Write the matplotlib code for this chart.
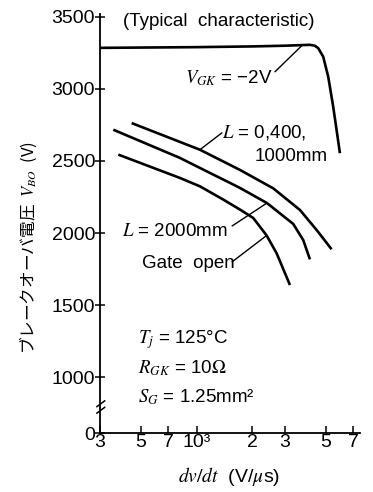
import matplotlib
matplotlib.use("Agg")
import matplotlib.pyplot as plt
import matplotlib.transforms as mtrans
from matplotlib.ticker import FixedLocator, FixedFormatter, NullLocator

plt.rcParams['mathtext.fontset'] = 'stix'
plt.rcParams['font.family'] = ['Liberation Sans', 'DejaVu Sans']

# ---- data ----
vgk_x = [300, 1000, 2000, 3000, 4096, 4350, 4542, 4831, 5143, 5472, 5708, 5950]
vgk_y = [3285, 3290, 3295, 3300, 3306, 3300, 3283, 3224, 3085, 2877, 2715, 2554]

l0_x = [445, 1041, 1713, 2594, 3616, 4452, 5365]
l0_y = [2763, 2578, 2438, 2310, 2160, 2021, 1887]

l2000_x = [354, 812, 1179, 1513, 1713, 2398, 3327, 3768, 4096]
l2000_y = [2717, 2521, 2417, 2348, 2313, 2208, 2063, 1951, 1817]

gate_x = [377, 812, 1041, 1392, 1713, 2023, 2389, 2706, 3193]
gate_y = [2544, 2382, 2324, 2232, 2163, 2104, 1983, 1859, 1639]

x_ticks = [300, 500, 700, 1000, 2000, 3000, 5000, 7000]
x_labels = ['3', '5', '7', '10³', '2', '3', '5', '7']
y_ticks = [612, 1000, 1500, 2000, 2500, 3000, 3500]
y_labels = ['0', '1000', '1500', '2000', '2500', '3000', '3500']

W, H = 373, 492
fig = plt.figure(figsize=(W / 100, H / 100), dpi=100)
ax = fig.add_axes([100 / W, 1 - 433 / H, 260 / W, (433 - 14) / H])

lw = 1.9
for xs, ys in ((vgk_x, vgk_y), (l0_x, l0_y), (l2000_x, l2000_y), (gate_x, gate_y)):
    ax.plot(xs, ys, color='black', lw=lw, solid_capstyle='butt',
            solid_joinstyle='round')

ax.set_xscale('log')
ax.set_xlim(300, 7640)
ax.set_ylim(612, 3520)

ax.xaxis.set_major_locator(FixedLocator(x_ticks))
ax.xaxis.set_major_formatter(FixedFormatter(x_labels))
ax.xaxis.set_minor_locator(NullLocator())
ax.yaxis.set_major_locator(FixedLocator(y_ticks))
ax.yaxis.set_major_formatter(FixedFormatter(y_labels))

for s in ['top', 'right']:
    ax.spines[s].set_visible(False)
for s in ['left', 'bottom']:
    ax.spines[s].set_linewidth(1.3)

ax.tick_params(axis='x', direction='in', length=5, width=1.1, labelsize=14, pad=1)
ax.tick_params(axis='y', direction='inout', length=7, width=1.1, labelsize=14, pad=0)

# axis break marks on y axis
bt = mtrans.blended_transform_factory(ax.transAxes, ax.transData)
for yb in (815, 770):
    ax.plot([-0.012, 0.018], [yb - 20, yb + 20], transform=bt, color='black',
            lw=1.1, clip_on=False)

# leader lines
def leader(x0, y0, x1, y1):
    ax.annotate('', xy=(x1, y1), xytext=(x0, y0),
                arrowprops=dict(arrowstyle='-', lw=1.0, color='black',
                                shrinkA=0, shrinkB=0))

leader(2650, 3119, 3700, 3300)
leader(1368, 2695, 1041, 2578)
leader(1555, 2049, 2398, 2208)
leader(1555, 1800, 2389, 1983)

def ftext(px, py, s, **kw):
    kw.setdefault('fontsize', 13.5)
    kw.setdefault('va', 'center')
    kw.setdefault('ha', 'left')
    fig.text(px / W, 1 - py / H, s, **kw)

ftext(123, 22, '(Typical  characteristic)')
ftext(185, 78, r'$V_{GK}$ = −2V')
ftext(222, 133, r'$L$ = 0,400,')
ftext(255, 156, '1000mm')
ftext(122, 232, r'$L$ = 2000mm')
ftext(142, 264, 'Gate  open')
ftext(138, 340, r'$T_j$ = 125°C')
ftext(138, 368, r'$R_{GK}$ = 10$\Omega$')
ftext(138, 397, r'$S_G$ = 1.25mm²')

ftext(229, 477, r'$dv/dt$  (V/$\mu$s)', ha='center', fontsize=14)
fig.text(28 / W, 1 - 248 / H, 'ブレークオーバ電圧  $V_{BO}$  (V)', rotation=90,
         ha='center', va='center', fontsize=12,
         family=['Noto Sans CJK JP', 'DejaVu Sans'])

fig.savefig('out.png', dpi=100)
